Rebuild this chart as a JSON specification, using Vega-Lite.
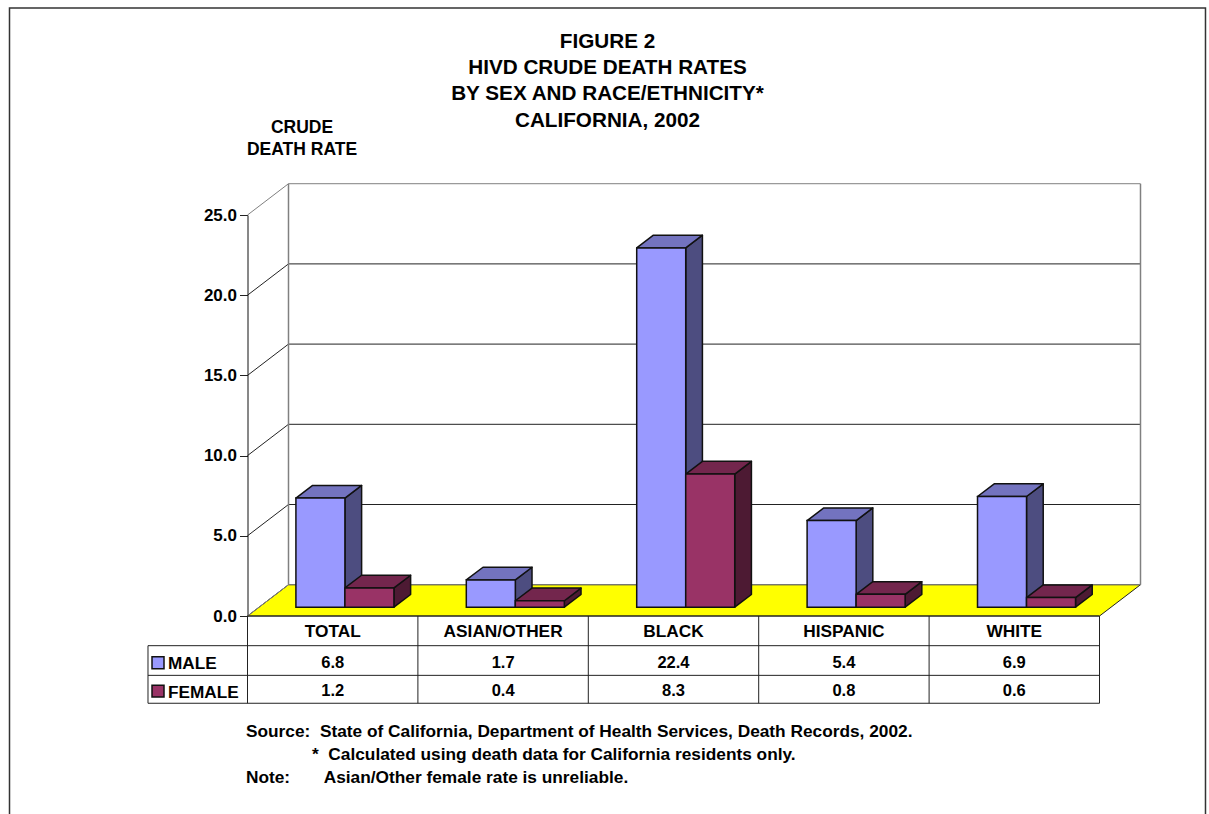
{
"$schema":"https://vega.github.io/schema/vega-lite/v6.json",
"width":852,"height":401,
"autosize":{"type":"none"},
"padding":{"left":247.5,"top":215,"right":109.5,"bottom":198},
"background":"white",
"title":{"text":["FIGURE 2","HIVD CRUDE DEATH RATES","BY SEX AND RACE/ETHNICITY*","CALIFORNIA, 2002"],"font":"Liberation Sans","fontSize":20.7,"fontWeight":"bold","color":"black","lineHeight":26.3,"anchor":"middle","frame":"group","dx":-66,"offset":0,"dy":124},
"config":{"view":{"stroke":null},"font":"Liberation Sans",
"axisX":{"disable":true},
"axisY":{"grid":false,"labelFont":"Liberation Sans","labelFontSize":17,"labelFontWeight":"bold","labelColor":"black","labelPadding":3,"tickSize":8,"tickColor":"#222222","tickWidth":1,"domainColor":"#111111","domainWidth":1,"labelFlush":false,"labelOverlap":false},
"text":{"font":"Liberation Sans","fontWeight":"bold","fontSize":16.5,"color":"black"}},
"datasets":{
"rates":[
{"category":"TOTAL","sex":"MALE","rate":6.8},{"category":"ASIAN/OTHER","sex":"MALE","rate":1.7},{"category":"BLACK","sex":"MALE","rate":22.4},{"category":"HISPANIC","sex":"MALE","rate":5.4},{"category":"WHITE","sex":"MALE","rate":6.9},
{"category":"TOTAL","sex":"FEMALE","rate":1.2},{"category":"ASIAN/OTHER","sex":"FEMALE","rate":0.4},{"category":"BLACK","sex":"FEMALE","rate":8.3},{"category":"HISPANIC","sex":"FEMALE","rate":0.8},{"category":"WHITE","sex":"FEMALE","rate":0.6}],
"grid":[{"level":0},{"level":5},{"level":10},{"level":15},{"level":20},{"level":25}],
"one":[{"id":1}],
"notes":[{"line":0,"note":"Source:\u00a0\u00a0State of California, Department of Health Services, Death Records, 2002."},{"line":1,"note":"*\u00a0\u00a0Calculated using death data for California residents only."},{"line":2,"note":"Note:\u00a0\u00a0\u00a0\u00a0\u00a0\u00a0\u00a0Asian/Other female rate is unreliable."}],
"tableRows":[{"row":"header"},{"row":"male"},{"row":"female"}],
"tableCols":[{"col":0},{"col":1},{"col":2},{"col":3},{"col":4},{"col":5}]
},
"layer":[
{"data":{"name":"one"},"mark":{"type":"rect","fill":null,"stroke":"#333333","strokeWidth":1.5},
 "encoding":{"x":{"datum":-1.3967,"type":"quantitative","scale":{"domain":[0,5],"nice":false,"zero":false}},"x2":{"datum":5.622},
 "y":{"datum":37.9,"type":"quantitative","scale":{"domain":[0,25],"nice":false,"zero":false},"title":["CRUDE","DEATH RATE"],
   "axis":{"title":["CRUDE","DEATH RATE"],"titleAngle":0,"titleFont":"Liberation Sans","titleFontSize":17.5,"titleFontWeight":"bold","titleColor":"black","titleLineHeight":22,"titleAlign":"center","titleBaseline":"alphabetic","titleX":54,"titleY":-83,"values":[0,5,10,15,20,25],"format":".1f"}},"y2":{"datum":-13}}},
{"data":{"name":"one"},"transform":[{"calculate":"[0,1]","as":"t"},{"flatten":["t"]},{"calculate":"datum.t*1.951","as":"fy"},{"calculate":"datum.t*0.2406","as":"fx"},{"calculate":"5+datum.t*0.2406","as":"fx2"}],
 "mark":{"type":"area","orient":"horizontal","fill":"#FFFF00","stroke":"#222222","strokeWidth":1},
 "encoding":{"y":{"field":"fy","type":"quantitative"},"x":{"field":"fx","type":"quantitative"},"x2":{"field":"fx2"}}},
{"data":{"name":"grid"},"transform":[{"calculate":"datum.level+1.951","as":"by"},{"calculate":"datum.level===0||datum.level===25?'edge':'line'","as":"kind"}],
 "layer":[
 {"mark":{"type":"rule","strokeWidth":1},"encoding":{"x":{"datum":0,"type":"quantitative"},"x2":{"datum":0.2406},"y":{"field":"level","type":"quantitative"},"y2":{"field":"by"},
   "color":{"condition":{"test":"datum.kind==='edge'","value":"#808080"},"value":"#222222"}}},
 {"mark":{"type":"rule","strokeWidth":1},"encoding":{"x":{"datum":0.2406,"type":"quantitative"},"x2":{"datum":5.2406},"y":{"field":"by","type":"quantitative"},
   "color":{"condition":{"test":"datum.kind==='edge'","value":"#808080"},"value":"#222222"}}}
 ]},
{"data":{"name":"one"},"mark":{"type":"rule","stroke":"#808080","strokeWidth":1.5},"encoding":{"x":{"datum":0.2406,"type":"quantitative"},"y":{"datum":1.951,"type":"quantitative"},"y2":{"datum":26.951}}},
{"data":{"name":"one"},"mark":{"type":"rule","stroke":"#808080","strokeWidth":1.5},"encoding":{"x":{"datum":5.2406,"type":"quantitative"},"y":{"datum":1.951,"type":"quantitative"},"y2":{"datum":26.951}}},
{"data":{"name":"rates"},
 "transform":[
 {"calculate":"indexof(['TOTAL','ASIAN/OTHER','BLACK','HISPANIC','WHITE'],datum.category)","as":"idx"},
 {"calculate":"datum.sex==='MALE'?0:1","as":"s"},
 {"calculate":"datum.idx+0.2841+datum.s*0.2876","as":"x0"},
 {"calculate":"datum.x0+0.2876","as":"x1"},
 {"calculate":"0.55","as":"base"},
 {"calculate":"datum.base+datum.rate","as":"top"},
 {"calculate":"datum.category+datum.sex","as":"bar"},
 {"calculate":"datum.idx+0.5","as":"cx"},
 {"calculate":"datum.sex==='MALE'?-2.9:-4.7","as":"rowY"},
 {"calculate":"datum.rowY-0.11","as":"labelY"},
 {"calculate":"datum.sex==='MALE'?-2.537:-4.32","as":"swTop"},
 {"calculate":"datum.sex==='MALE'?-3.285:-5.05","as":"swBot"}
 ],
 "layer":[
 {"transform":[{"calculate":"[0,1]","as":"t"},{"flatten":["t"]},{"calculate":"datum.x1+datum.t*0.098","as":"sx"},{"calculate":"datum.base+datum.t*0.79","as":"sy"},{"calculate":"datum.top+datum.t*0.79","as":"sy2"}],
  "mark":{"type":"area","stroke":"#111111","strokeWidth":1.5,"strokeJoin":"round"},
  "encoding":{"x":{"field":"sx","type":"quantitative"},"y":{"field":"sy","type":"quantitative"},"y2":{"field":"sy2"},"detail":{"field":"bar"},
   "fill":{"condition":{"test":"datum.sex==='MALE'","value":"#4D4D80"},"value":"#4D1A33"}}},
 {"transform":[{"calculate":"[0,1]","as":"t"},{"flatten":["t"]},{"calculate":"datum.top+datum.t*0.79","as":"ty"},{"calculate":"datum.x0+datum.t*0.098","as":"tx"},{"calculate":"datum.x1+datum.t*0.098","as":"tx2"}],
  "mark":{"type":"area","orient":"horizontal","stroke":"#111111","strokeWidth":1.5,"strokeJoin":"round"},
  "encoding":{"y":{"field":"ty","type":"quantitative"},"x":{"field":"tx","type":"quantitative"},"x2":{"field":"tx2"},"detail":{"field":"bar"},
   "fill":{"condition":{"test":"datum.sex==='MALE'","value":"#7373BF"},"value":"#73264D"}}},
 {"mark":{"type":"rect","stroke":"#111111","strokeWidth":1.5},
  "encoding":{"x":{"field":"x0","type":"quantitative"},"x2":{"field":"x1"},"y":{"field":"base","type":"quantitative"},"y2":{"field":"top"},
   "fill":{"field":"sex","type":"nominal","scale":{"domain":["MALE","FEMALE"],"range":["#9999FF","#993366"]},"legend":null}}},
 {"mark":{"type":"text","baseline":"middle","align":"center"},"encoding":{"x":{"field":"cx","type":"quantitative"},"y":{"field":"rowY","type":"quantitative"},"text":{"field":"rate","type":"quantitative","format":".1f"}}},
 {"transform":[{"filter":"datum.sex==='MALE'"}],"mark":{"type":"text","baseline":"middle","align":"center","fontSize":17.3},"encoding":{"x":{"field":"cx","type":"quantitative"},"y":{"datum":-1.0,"type":"quantitative"},"text":{"field":"category","type":"nominal"}}},
 {"transform":[{"filter":"datum.idx===0"}],"mark":{"type":"text","baseline":"middle","align":"left","fontSize":17.2},"encoding":{"x":{"datum":-0.4665,"type":"quantitative"},"y":{"field":"labelY","type":"quantitative"},"text":{"field":"sex","type":"nominal"}}},
 {"transform":[{"filter":"datum.idx===0"}],"mark":{"type":"rect","stroke":"#111111","strokeWidth":1.5},
  "encoding":{"x":{"datum":-0.5604,"type":"quantitative"},"x2":{"datum":-0.49},"y":{"field":"swTop","type":"quantitative"},"y2":{"field":"swBot"},
   "fill":{"field":"sex","type":"nominal","legend":null}}}
 ]},
{"data":{"name":"tableRows"},"transform":[{"calculate":"{header:-1.85,male:-3.70,female:-5.44}[datum.row]","as":"ly"}],
 "mark":{"type":"rule","stroke":"#222222","strokeWidth":1},"encoding":{"x":{"datum":-0.584,"type":"quantitative"},"x2":{"datum":5},"y":{"field":"ly","type":"quantitative"}}},
{"data":{"name":"one"},"mark":{"type":"rule","stroke":"#222222","strokeWidth":1},"encoding":{"x":{"datum":0,"type":"quantitative"},"x2":{"datum":5},"y":{"datum":0,"type":"quantitative"}}},
{"data":{"name":"tableCols"},"mark":{"type":"rule","stroke":"#222222","strokeWidth":1},"encoding":{"x":{"field":"col","type":"quantitative"},"y":{"datum":0,"type":"quantitative"},"y2":{"datum":-5.44}}},
{"data":{"name":"one"},"mark":{"type":"rule","stroke":"#222222","strokeWidth":1},"encoding":{"x":{"datum":-0.584,"type":"quantitative"},"y":{"datum":-1.85,"type":"quantitative"},"y2":{"datum":-5.44}}},
{"data":{"name":"notes"},"transform":[{"calculate":"-7.23-datum.line*1.434","as":"ny"},{"calculate":"datum.line===1?0.3785:-0.009","as":"nx"}],
 "mark":{"type":"text","align":"left","baseline":"middle","fontSize":17.3},"encoding":{"x":{"field":"nx","type":"quantitative"},"y":{"field":"ny","type":"quantitative"},"text":{"field":"note","type":"nominal"}}}
]
}
